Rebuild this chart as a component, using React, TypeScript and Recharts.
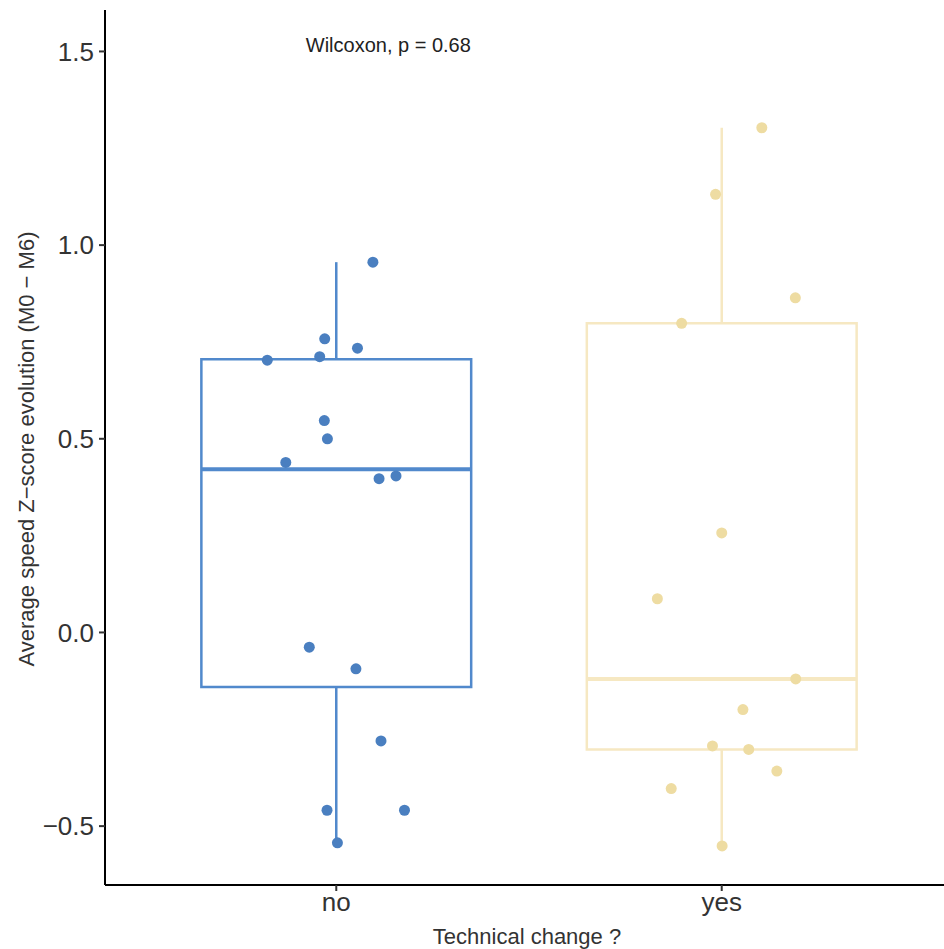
import React from 'react';
import { ComposedChart, Scatter, XAxis, YAxis, ReferenceArea, ReferenceLine, ReferenceDot } from 'recharts';

const categories = ['no', 'yes'];
const noValues = [0.956, 0.758, 0.734, 0.703, 0.712, 0.547, 0.5, 0.439, 0.397, 0.404, -0.038, -0.094, -0.28, -0.459, -0.459, -0.543];
const noJitter = [0.095, -0.03, 0.055, -0.179, -0.043, -0.031, -0.023, -0.131, 0.111, 0.155, -0.07, 0.051, 0.116, -0.024, 0.177, 0.003];
const yesValues = [1.303, 1.131, 0.864, 0.798, 0.257, 0.087, -0.12, -0.199, -0.293, -0.302, -0.358, -0.403, -0.551];
const yesJitter = [0.104, -0.016, 0.191, -0.104, 0.0, -0.167, 0.192, 0.055, -0.024, 0.07, 0.143, -0.131, 0.001];
const yTicks = [-0.5, 0, 0.5, 1, 1.5];
const yDomain: [number, number] = [-0.652, 1.607];
const xDomain: [number, number] = [0.4, 2.6];
const testLabel = 'Wilcoxon, p = 0.68';
const testLabelPos = { x: 1.135, y: 1.516 };
const xTitle = 'Technical change ?';
const yTitle = 'Average speed Z\u2212score evolution (M0 \u2212 M6)';

const BLUE_PT = '#4a7fc0';
const BLUE_LN = '#5189cc';
const YEL_PT = '#eedca2';
const YEL_LN = '#f6e8c2';
const FONT = '"Liberation Sans", Arial, Helvetica, sans-serif';
const BOX_HALF = 0.35;

function quantile(sorted: number[], p: number) {
  const h = (sorted.length - 1) * p;
  const lo = Math.floor(h);
  const hi = Math.ceil(h);
  return sorted[lo] + (h - lo) * (sorted[hi] - sorted[lo]);
}

function boxStats(values: number[]) {
  const s = [...values].sort((a, b) => a - b);
  const q1 = quantile(s, 0.25);
  const med = quantile(s, 0.5);
  const q3 = quantile(s, 0.75);
  const iqr = q3 - q1;
  const lowW = Math.min(...s.filter((v) => v >= q1 - 1.5 * iqr));
  const highW = Math.max(...s.filter((v) => v <= q3 + 1.5 * iqr));
  return { q1, med, q3, lowW, highW };
}

const noData = noValues.map((v, i) => ({ x: 1 + noJitter[i], y: v }));
const yesData = yesValues.map((v, i) => ({ x: 2 + yesJitter[i], y: v }));
const groups = [
  { cx: 1, stats: boxStats(noValues), line: BLUE_LN },
  { cx: 2, stats: boxStats(yesValues), line: YEL_LN },
];

const fmtY = (v: number) => (v < 0 ? '\u2212' + Math.abs(v).toFixed(1) : v.toFixed(1));

export default function App() {
  return (
    <div style={{ position: 'absolute', left: 0, top: 0, width: 944, height: 949, overflow: 'hidden', background: '#fff' }}>
      <ComposedChart
        width={960}
        height={949}
        margin={{ top: 10, right: 7, left: 0, bottom: 0 }}
        style={{ fontFamily: FONT }}
      >
        <XAxis
          type="number"
          dataKey="x"
          domain={xDomain}
          allowDataOverflow
          ticks={[1, 2]}
          tickFormatter={(v: number) => categories[v - 1]}
          height={64}
          tickSize={6}
          tickMargin={2}
          axisLine={{ stroke: '#000', strokeWidth: 2 }}
          tickLine={{ stroke: '#333', strokeWidth: 2 }}
          tick={{ fontSize: 26, fill: '#333', fontFamily: FONT }}
          label={{
            content: () => (
              <text x={527} y={936} textAnchor="middle" dominantBaseline="central" fontSize={22} fill="#333" fontFamily={FONT}>
                {xTitle}
              </text>
            ),
          }}
        />
        <YAxis
          type="number"
          dataKey="y"
          domain={yDomain}
          allowDataOverflow
          ticks={yTicks}
          tickFormatter={fmtY}
          width={105}
          tickSize={6}
          tickMargin={5}
          axisLine={{ stroke: '#000', strokeWidth: 2 }}
          tickLine={{ stroke: '#333', strokeWidth: 2 }}
          tick={{ fontSize: 26, fill: '#333', fontFamily: FONT }}
          label={{
            content: () => (
              <text
                x={26}
                y={449}
                transform="rotate(-90 26 449)"
                textAnchor="middle"
                dominantBaseline="central"
                fontSize={22}
                fill="#333"
                fontFamily={FONT}
              >
                {yTitle}
              </text>
            ),
          }}
        />
        {groups.map((g) => (
          <ReferenceLine
            key={'wu' + g.cx}
            segment={[{ x: g.cx, y: g.stats.q3 }, { x: g.cx, y: g.stats.highW }]}
            stroke={g.line}
            strokeWidth={2.5}
            ifOverflow="visible"
          />
        ))}
        {groups.map((g) => (
          <ReferenceLine
            key={'wl' + g.cx}
            segment={[{ x: g.cx, y: g.stats.lowW }, { x: g.cx, y: g.stats.q1 }]}
            stroke={g.line}
            strokeWidth={2.5}
            ifOverflow="visible"
          />
        ))}
        {groups.map((g) => (
          <ReferenceArea
            key={'b' + g.cx}
            x1={g.cx - BOX_HALF}
            x2={g.cx + BOX_HALF}
            y1={g.stats.q1}
            y2={g.stats.q3}
            fill="none"
            fillOpacity={0}
            stroke={g.line}
            strokeWidth={2.5}
            strokeOpacity={1}
            ifOverflow="visible"
          />
        ))}
        {groups.map((g) => (
          <ReferenceLine
            key={'m' + g.cx}
            segment={[{ x: g.cx - BOX_HALF, y: g.stats.med }, { x: g.cx + BOX_HALF, y: g.stats.med }]}
            stroke={g.line}
            strokeWidth={4}
            ifOverflow="visible"
          />
        ))}
        <ReferenceDot
          x={testLabelPos.x}
          y={testLabelPos.y}
          r={0.01}
          fill="none"
          stroke="none"
          ifOverflow="visible"
          label={{
            content: (props: any) => {
              const vb = props.viewBox || {};
              const cx = (vb.x ?? 0) + (vb.width ?? 0) / 2;
              const cy = (vb.y ?? 0) + (vb.height ?? 0) / 2;
              return (
                <text x={cx} y={cy} textAnchor="middle" dominantBaseline="central" fontSize={20} fill="#222" fontFamily={FONT}>
                  {testLabel}
                </text>
              );
            },
          }}
        />
        <Scatter
          data={noData}
          isAnimationActive={false}
          shape={(p: any) => <circle cx={p.cx} cy={p.cy} r={5.5} fill={BLUE_PT} />}
        />
        <Scatter
          data={yesData}
          isAnimationActive={false}
          shape={(p: any) => <circle cx={p.cx} cy={p.cy} r={5.5} fill={YEL_PT} />}
        />
      </ComposedChart>
    </div>
  );
}
